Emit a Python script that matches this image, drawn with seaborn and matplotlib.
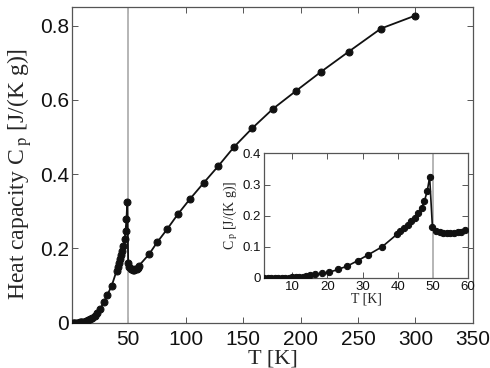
import matplotlib
matplotlib.use("Agg")
import matplotlib.pyplot as plt
import seaborn as sns
import numpy as np
from matplotlib.ticker import FuncFormatter

# Data
T_K = [2, 3, 4, 5, 6, 7, 8, 9, 10, 11, 12, 13, 14, 15, 16.6, 18.5, 20.6, 23, 25.7,
       28.6, 31.6, 35.6, 39.8, 40.8, 41.8, 42.8, 43.8, 44.8, 45.8, 46.8, 47.6, 48.4,
       49.1, 49.9, 50.8, 52.0, 52.9, 54.0, 55.0, 56.0, 57.2, 58.1, 59.1,
       68, 75, 83.6, 93.1, 103.4, 115.5, 128.4, 142, 158, 176, 196, 218, 242, 270, 300]
Cp = [0, 0, 0, 0, 0, 0, 0.001, 0.001, 0.002, 0.002, 0.003, 0.004, 0.005, 0.008, 0.011,
      0.014, 0.018, 0.027, 0.038, 0.055, 0.074, 0.100, 0.140, 0.150, 0.161, 0.171,
      0.182, 0.194, 0.207, 0.225, 0.247, 0.278, 0.324, 0.162, 0.151, 0.146, 0.144,
      0.143, 0.143, 0.144, 0.146, 0.148, 0.153,
      0.184, 0.216, 0.251, 0.292, 0.332, 0.376, 0.422, 0.473, 0.524, 0.576, 0.624,
      0.676, 0.730, 0.792, 0.827]
T_transition = 50

main_xticks = [50, 100, 150, 200, 250, 300, 350]
main_yticks = [0, 0.2, 0.4, 0.6, 0.8]
inset_xticks = [10, 20, 30, 40, 50, 60]
inset_yticks = [0, 0.1, 0.2, 0.3, 0.4]

sns.set_theme(style="white")
plt.rcParams['font.family'] = ['Liberation Sans', 'DejaVu Sans']
plt.rcParams['mathtext.fontset'] = 'stix'

fig = plt.figure(figsize=(4.9, 3.68), dpi=100)
ax = fig.add_axes([0.147, 0.123, 0.818, 0.858])
ins = fig.add_axes([0.539, 0.245, 0.416, 0.338])

fmt = FuncFormatter(lambda v, p: "0" if abs(v) < 1e-9 else f"{v:g}")

def style(a, fs, xpad, ypad):
    for s in a.spines.values():
        s.set_color('#555555')
        s.set_linewidth(0.9)
    a.tick_params(direction='in', top=True, right=True, bottom=True, left=True,
                  length=4, width=0.7, color='#555555', labelsize=fs, labelcolor='#111111')
    a.tick_params(axis='x', pad=xpad)
    a.tick_params(axis='y', pad=ypad)
    a.yaxis.set_major_formatter(fmt)

for a, ms, lw in [(ax, 5, 1.3), (ins, 4.5, 1.2)]:
    a.axvline(T_transition, color='#b5b5b5', lw=1.4, zorder=1)
    sns.lineplot(x=T_K, y=Cp, ax=a, color='#111111', marker='o', markersize=ms,
                 markeredgecolor='#111111', linewidth=lw, zorder=3)

ax.set_xlim(1, 350)
ax.set_ylim(0, 0.85)
ax.set_xticks(main_xticks)
ax.set_yticks(main_yticks)
style(ax, 15, 5, 2)
ax.set_xlabel("T [K]", fontsize=16, family=['Liberation Serif'])
ax.xaxis.set_label_coords(0.5, -0.085)
ax.set_ylabel(r"Heat capacity C$_{\;\mathrm{p}}$ [J/(K g)]", fontsize=17, family=['Liberation Serif'])
ax.yaxis.set_label_coords(-0.095, 0.47)

ins.set_xlim(2, 60)
ins.set_ylim(0, 0.4)
ins.set_xticks(inset_xticks)
ins.set_yticks(inset_yticks)
style(ins, 9.5, 2, 2)
ins.set_xlabel("T [K]", fontsize=10, family=['Liberation Serif'], labelpad=0)
ins.set_ylabel(r"C$_{\;\mathrm{p}}$ [J/(K g)]", fontsize=10, family=['Liberation Serif'], labelpad=2)

fig.savefig("out.png", dpi=100)
